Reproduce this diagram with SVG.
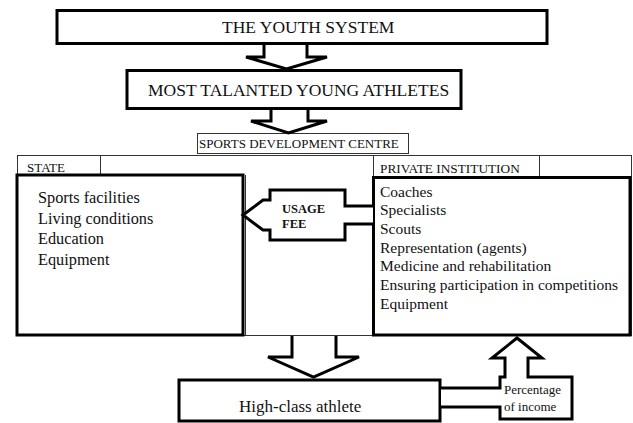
<svg xmlns="http://www.w3.org/2000/svg" width="633" height="423" viewBox="0 0 633 423">
<style>
.thick{fill:#fff;stroke:#000;stroke-width:3}
.thin{fill:none;stroke:#333;stroke-width:1}
.arrow{fill:#fff;stroke:#000;stroke-width:3;stroke-linejoin:miter}
text{font-family:"Liberation Serif","Times New Roman",serif;fill:#111}
.t17{font-size:17.5px}
.t13{font-size:13px}
.st{font-size:16.3px}
.pr{font-size:15.5px}
.b{font-size:12.5px;font-weight:bold}
</style>
<rect width="633" height="423" fill="#fff"/>
<g id="frame">
<rect class="thin" x="17.5" y="155.5" width="614" height="180"/>
<line class="thin" x1="100.5" y1="155" x2="100.5" y2="175"/>
<line class="thin" x1="373.5" y1="155" x2="373.5" y2="178"/>
<line class="thin" x1="539.5" y1="155" x2="539.5" y2="178"/>
<line class="thin" x1="245.5" y1="175" x2="245.5" y2="335"/>
</g>
<g id="youth-system">
<rect class="thick" x="57" y="10.5" width="490" height="33"/>
<text class="t17" x="222" y="32.5">THE YOUTH SYSTEM</text>
</g>
<g id="talented">
<rect class="thick" x="127" y="70.5" width="334" height="38"/>
<text class="t17" x="148" y="95.5">MOST TALANTED YOUNG ATHLETES</text>
</g>
<g id="sdc">
<rect class="thin" x="197.5" y="133.5" width="211" height="20"/>
<text class="t13" x="199" y="148">SPORTS DEVELOPMENT CENTRE</text>
</g>
<g id="state-tab">
<text class="t13" x="27" y="172">STATE</text>
</g>
<g id="private-tab">
<text class="t13" x="380" y="173" style="font-size:13.3px">PRIVATE INSTITUTION</text>
</g>
<g id="state">
<rect class="thick" x="17" y="175" width="226" height="160"/>
<text class="st" x="38" y="203">Sports facilities</text>
<text class="st" x="38" y="223.7">Living conditions</text>
<text class="st" x="38" y="244.4">Education</text>
<text class="st" x="38" y="265">Equipment</text>
</g>
<g id="private">
<rect class="thick" x="373.5" y="177.5" width="256.5" height="157.5"/>
<text class="pr" x="380" y="196.5">Coaches</text>
<text class="pr" x="380" y="215.2">Specialists</text>
<text class="pr" x="380" y="233.9">Scouts</text>
<text class="pr" x="380" y="252.6">Representation (agents)</text>
<text class="pr" x="380" y="271.3">Medicine and rehabilitation</text>
<text class="pr" x="380" y="290">Ensuring participation in competitions</text>
<text class="pr" x="380" y="308.7">Equipment</text>
</g>
<g id="athlete">
<rect class="thick" x="179" y="380" width="261" height="41"/>
<text x="239" y="412" style="font-size:17px">High-class athlete</text>
</g>
<g id="connectors">
<path class="arrow" d="M264,45 V57 H246 L286.5,69 L327,57 H307 V45"/>
<path class="arrow" d="M271,110 V121 H251 L288.5,133 L327,121 H308 V110"/>
<path class="arrow" d="M292,336 V357 H268 L313.5,377 L359,357 H336 V336"/>
<path class="arrow" d="M373,206 H345 V190 H270 V200 H263 L243,215 L263,230 H270 V240 H345 V224 H373"/>
<path class="arrow" d="M441,388 H500 V377 H505 V358 H492 L517,338 L542,358 H528 V377 H572 V419 H500 V407 H441"/>
<text class="b" x="282" y="213">USAGE</text>
<text class="b" x="282" y="228">FEE</text>
<text class="t13" x="504" y="394">Percentage</text>
<text class="t13" x="504" y="411">of income</text>
</g>
</svg>
